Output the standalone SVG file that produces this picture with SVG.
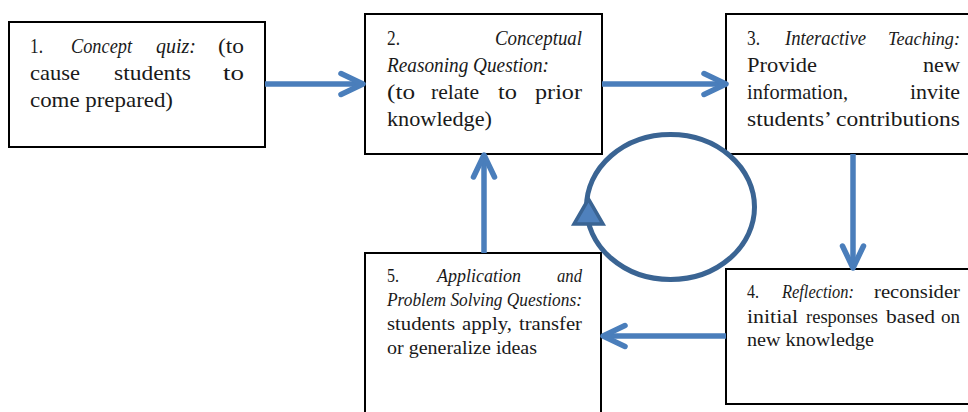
<svg xmlns="http://www.w3.org/2000/svg" width="968" height="412" viewBox="0 0 968 412">
<style>
.box{fill:#fff;stroke:#000;stroke-width:2}
.t{font-family:'Liberation Serif','DejaVu Serif','Noto Serif',serif;fill:#1a1a1a}
.big{font-size:22px}
.small{font-size:19.5px}
.i{font-style:italic}
.conn{stroke:#4A7EBB;stroke-width:5.5;fill:none;marker-end:url(#chev)}
</style>
<defs>
<marker id="chev" markerUnits="userSpaceOnUse" viewBox="-30 -16 40 32" refX="0" refY="0" markerWidth="40" markerHeight="32" orient="auto" overflow="visible">
<path d="M-19 -10.5 L3 0 L-19 10.5" fill="none" stroke="#4A7EBB" stroke-width="5.5" stroke-linecap="round" stroke-linejoin="round"/>
</marker>
</defs>
<rect width="968" height="412" fill="#fff"/>

<g id="node1">
<rect class="box" x="9" y="22" width="256" height="125"/>
<text class="t big" x="30" y="53" textLength="13" lengthAdjust="spacingAndGlyphs">1.</text>
<text class="t big i" x="71" y="53" textLength="61" lengthAdjust="spacingAndGlyphs">Concept</text>
<text class="t big i" x="156" y="53" textLength="40" lengthAdjust="spacingAndGlyphs">quiz:</text>
<text class="t big" x="218" y="53" textLength="26" lengthAdjust="spacingAndGlyphs">(to</text>
<text class="t big" x="30" y="80" textLength="50" lengthAdjust="spacingAndGlyphs">cause</text>
<text class="t big" x="114" y="80" textLength="77" lengthAdjust="spacingAndGlyphs">students</text>
<text class="t big" x="223" y="80" textLength="21" lengthAdjust="spacingAndGlyphs">to</text>
<text class="t big" x="30" y="107" textLength="143" lengthAdjust="spacingAndGlyphs">come prepared)</text>
</g>

<g id="node2">
<rect class="box" x="365" y="14" width="237" height="140"/>
<text class="t big" x="387" y="45" textLength="13" lengthAdjust="spacingAndGlyphs">2.</text>
<text class="t big i" x="495" y="45" textLength="87" lengthAdjust="spacingAndGlyphs">Conceptual</text>
<text class="t big i" x="387" y="72" textLength="162" lengthAdjust="spacingAndGlyphs">Reasoning Question:</text>
<text class="t big" x="387" y="99" textLength="28" lengthAdjust="spacingAndGlyphs">(to</text>
<text class="t big" x="431" y="99" textLength="48" lengthAdjust="spacingAndGlyphs">relate</text>
<text class="t big" x="498" y="99" textLength="19" lengthAdjust="spacingAndGlyphs">to</text>
<text class="t big" x="535" y="99" textLength="47" lengthAdjust="spacingAndGlyphs">prior</text>
<text class="t big" x="387" y="126" textLength="105" lengthAdjust="spacingAndGlyphs">knowledge)</text>
</g>

<g id="node3">
<rect class="box" x="726" y="14" width="262" height="140"/>
<text class="t big" x="747" y="45" textLength="13" lengthAdjust="spacingAndGlyphs">3.</text>
<text class="t big i" x="785" y="45" textLength="81" lengthAdjust="spacingAndGlyphs">Interactive</text>
<text class="t i" x="888" y="45" font-size="19" textLength="72" lengthAdjust="spacingAndGlyphs">Teaching:</text>
<text class="t big" x="747" y="72" textLength="70" lengthAdjust="spacingAndGlyphs">Provide</text>
<text class="t big" x="923" y="72" textLength="37" lengthAdjust="spacingAndGlyphs">new</text>
<text class="t big" x="747" y="99" textLength="101" lengthAdjust="spacingAndGlyphs">information,</text>
<text class="t big" x="910" y="99" textLength="50" lengthAdjust="spacingAndGlyphs">invite</text>
<text class="t big" x="747" y="126" textLength="213" lengthAdjust="spacingAndGlyphs">students’ contributions</text>
</g>

<g id="node4">
<rect class="box" x="726" y="269" width="262" height="135"/>
<text class="t small" x="747" y="298" textLength="12" lengthAdjust="spacingAndGlyphs">4.</text>
<text class="t small i" x="782" y="298" textLength="72" lengthAdjust="spacingAndGlyphs">Reflection:</text>
<text class="t small" x="874" y="298" textLength="86" lengthAdjust="spacingAndGlyphs">reconsider</text>
<text class="t small" x="747" y="323" textLength="51" lengthAdjust="spacingAndGlyphs">initial</text>
<text class="t small" x="806" y="323" textLength="72" lengthAdjust="spacingAndGlyphs">responses</text>
<text class="t small" x="886" y="323" textLength="49" lengthAdjust="spacingAndGlyphs">based</text>
<text class="t small" x="941" y="323" textLength="19" lengthAdjust="spacingAndGlyphs">on</text>
<text class="t small" x="747" y="346" textLength="127" lengthAdjust="spacingAndGlyphs">new knowledge</text>
</g>

<g id="node5">
<rect class="box" x="365" y="253" width="236" height="175"/>
<text class="t small" x="387" y="282" textLength="12" lengthAdjust="spacingAndGlyphs">5.</text>
<text class="t small i" x="437" y="282" textLength="84" lengthAdjust="spacingAndGlyphs">Application</text>
<text class="t small i" x="557" y="282" textLength="25" lengthAdjust="spacingAndGlyphs">and</text>
<text class="t small i" x="387" y="306" textLength="195" lengthAdjust="spacingAndGlyphs">Problem Solving Questions:</text>
<text class="t small" x="387" y="330" textLength="68" lengthAdjust="spacingAndGlyphs">students</text>
<text class="t small" x="462" y="330" textLength="50" lengthAdjust="spacingAndGlyphs">apply,</text>
<text class="t small" x="519" y="330" textLength="63" lengthAdjust="spacingAndGlyphs">transfer</text>
<text class="t small" x="387" y="354" textLength="150" lengthAdjust="spacingAndGlyphs">or generalize ideas</text>
</g>

<g id="connectors">
<line class="conn" x1="265" y1="84" x2="360" y2="84"/>
<line class="conn" x1="602" y1="84" x2="723" y2="84"/>
<line class="conn" x1="853" y1="154" x2="853" y2="265"/>
<line class="conn" x1="726" y1="336" x2="606" y2="336"/>
<line class="conn" x1="484" y1="253" x2="484" y2="158"/>
</g>

<g id="cycle">
<ellipse cx="670.5" cy="207" rx="84" ry="72.5" fill="none" stroke="#3A6493" stroke-width="5"/>
<polygon points="588.5,199 574,224 603,224" fill="#4F81BD" stroke="#3A6493" stroke-width="3.5" stroke-linejoin="miter"/>
</g>
</svg>
